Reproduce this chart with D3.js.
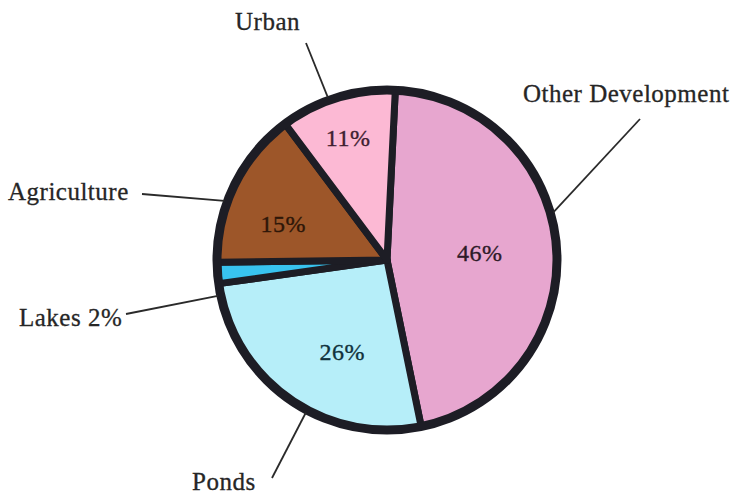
<!DOCTYPE html>
<html><head><meta charset="utf-8">
<script src="https://cdn.jsdelivr.net/npm/d3@7"></script>
<style>html,body{margin:0;padding:0;background:#fff;}svg{display:block;}</style>
</head><body>
<svg id="chart" width="735" height="496"></svg>
<script>
// Data
const categories = ["Other Development", "Ponds", "Lakes", "Agriculture", "Urban"];
const values = [46, 26, 2, 15, 11];
const sliceLabels = ["46%", "26%", "", "15%", "11%"];
const outerLabels = ["Other Development", "Ponds", "Lakes 2%", "Agriculture", "Urban"];
const colors = ["#e7a6cf", "#b6eef9", "#38c3ef", "#9d5629", "#fcb9d4"];
const textColors = ["#2e1a28", "#10323c", "#222", "#2e1608", "#3e2030"];

// Layout (positions only)
const W = 735, H = 496;
const cx = 387, cy = 260, R = 170;
const startDeg = 2.8;
// leader: angle (deg, clockwise from top) where it meets the pie, outer end point, label position
const leaders = [
  {ang: 74,  x2: 640, y2: 119, lx: 523, ly: 102},
  {ang: 208, x2: 272, y2: 478, lx: 192, ly: 490},
  {ang: 258, x2: 126, y2: 314, lx: 19,  ly: 326},
  {ang: 290, x2: 142, y2: 194, lx: 8,   ly: 200},
  {ang: 340, x2: 306, y2: 43,  lx: 235, ly: 30}
];
// in-slice label placement (polar: angle deg, radius px)
const pctPos = [
  {ang: 85.7, r: 93}, {ang: 206.1, r: 102}, {ang: 0, r: 0},
  {ang: 289.6, r: 110}, {ang: 342.3, r: 128}
];

const svg = d3.select("#chart");
const g = svg.append("g").attr("transform", `translate(${cx},${cy})`);

const pie = d3.pie().sort(null).value(d => d)
  .startAngle(startDeg * Math.PI / 180)
  .endAngle((startDeg + 360) * Math.PI / 180);
const arcs = pie(values);
const arc = d3.arc().innerRadius(0).outerRadius(R);

g.selectAll("path.slice").data(arcs).join("path")
  .attr("class", "slice")
  .attr("d", arc)
  .attr("fill", (d, i) => colors[i])
  .attr("stroke", "#1d1d25")
  .attr("stroke-width", 7)
  .attr("stroke-linejoin", "round");

g.append("circle").attr("r", R).attr("fill", "none")
  .attr("stroke", "#1d1d25").attr("stroke-width", 9);

// in-slice labels
g.selectAll("text.pct").data(arcs).join("text")
  .attr("class", "pct")
  .attr("transform", (d, i) => {
    const a = pctPos[i].ang * Math.PI / 180, r = pctPos[i].r;
    return `translate(${r * Math.sin(a)},${-r * Math.cos(a)})`;
  })
  .attr("text-anchor", "middle")
  .attr("dy", "0.35em")
  .attr("font-family", "'Liberation Serif', serif")
  .attr("font-size", 24)
  .attr("letter-spacing", 0.5)
  .attr("fill", (d, i) => textColors[i])
  .attr("stroke", (d, i) => textColors[i])
  .attr("stroke-width", 0.35)
  .text((d, i) => sliceLabels[i]);

// leader lines
svg.selectAll("line.leader").data(leaders).join("line")
  .attr("class", "leader")
  .attr("x1", d => cx + (R + 3) * Math.sin(d.ang * Math.PI / 180))
  .attr("y1", d => cy - (R + 3) * Math.cos(d.ang * Math.PI / 180))
  .attr("x2", d => d.x2).attr("y2", d => d.y2)
  .attr("stroke", "#2a2a2a").attr("stroke-width", 1.8);

svg.selectAll("text.outer").data(leaders).join("text")
  .attr("class", "outer")
  .attr("x", d => d.lx).attr("y", d => d.ly)
  .attr("font-family", "'Liberation Serif', serif")
  .attr("font-size", 25)
  .attr("letter-spacing", 0.5)
  .attr("fill", "#262626")
  .attr("stroke", "#262626")
  .attr("stroke-width", 0.3)
  .text((d, i) => outerLabels[i]);
</script>
</body></html>
